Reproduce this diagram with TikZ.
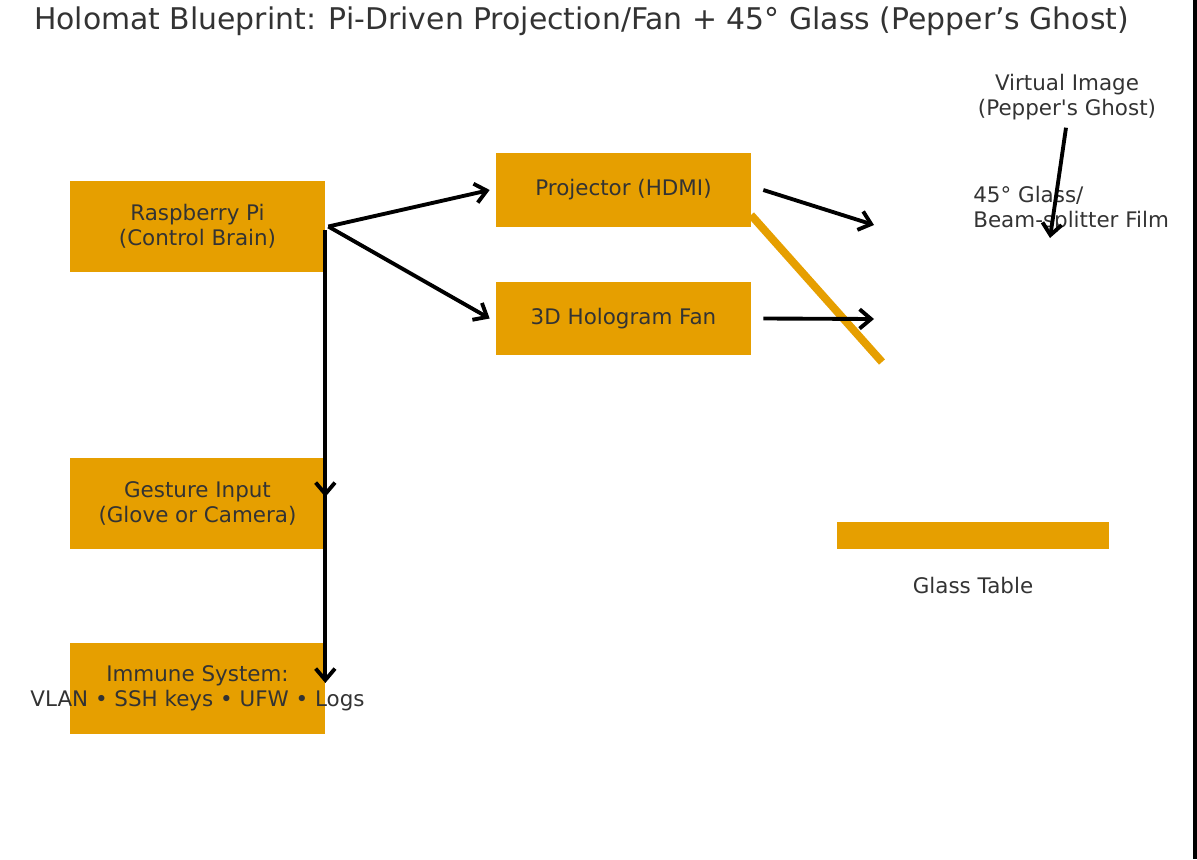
\documentclass[tikz,border=0pt]{standalone}
\usepackage{fontspec}
\setmainfont{DejaVu Sans}[Ligatures=TeXOff]
\usetikzlibrary{arrows.meta}

\definecolor{holoorange}{HTML}{E69F00}
\definecolor{inkgray}{HTML}{333333}

\begin{document}
\begin{tikzpicture}[x=0.02cm, y=-0.02cm, every node/.style={text=inkgray, font=\fontsize{12.2}{14.3}\selectfont}]
% Styles
\tikzstyle{block} = [rectangle, fill=holoorange, minimum width=5.1cm, minimum height=1.82cm, text centered, align=center, inner sep=0pt]
\tikzstyle{slim} = [block, minimum height=1.48cm]
\tikzstyle{note} = [align=center, inner sep=0pt]
\tikzstyle{arrow} = [line width=2.2pt, -{Straight Barb[length=6.5pt, width=11pt]}]
\tikzstyle{glass} = [line width=4.5pt, holoorange]

% Canvas
\useasboundingbox (0,0) rectangle (1197,859);
\fill (1193,0) rectangle (1197,859);

% Title
\node (title) [note, font=\fontsize{17}{20}\selectfont] at (581.5,21) {Holomat Blueprint: Pi-Driven Projection/Fan + 45° Glass (Pepper’s Ghost)};

% Nodes
\node (pi) [block] at (197.5,226.5) {Raspberry Pi\\(Control Brain)};
\node (gesture) [block] at (197.5,503.5) {Gesture Input\\(Glove or Camera)};
\node (immune) [block] at (197.5,688) {Immune System:\\\makebox[0pt]{VLAN • SSH keys • UFW • Logs}};
\node (projector) [slim] at (623.5,190) {Projector (HDMI)};
\node (fan) [slim] at (623.5,318.5) {3D Hologram Fan};
\node (table) [block, minimum width=5.44cm, minimum height=0.54cm] at (973,535.5) {};
\node (table_label) [note] at (973,586) {Glass Table};
\node (virtual) [note] at (1067,97.5) {Virtual Image\\(Pepper's Ghost)};
\node (glass_label) [note, align=left, anchor=west] at (973,209) {45° Glass/\\Beam-splitter Film};

% Glass sheet
\draw [glass] (751,215) -- (882,362);

% Arrows
\coordinate (beam1) at (874,225);
\coordinate (beam2) at (874,319);
\coordinate (ghost) at (1050,238);
\draw [arrow] ([xshift=0.06cm]pi.east) -- ([xshift=-0.12cm]projector.west);
\draw [arrow] ([xshift=0.06cm]pi.east) -- ([xshift=-0.12cm]fan.west);
\draw [arrow] ([yshift=-0.07cm]pi.east) -- ([yshift=0.13cm]gesture.east);
\draw [arrow] ([yshift=-0.07cm]pi.east) -- ([yshift=0.1cm]immune.east);
\draw [arrow] ([xshift=0.24cm]projector.east) -- (beam1);
\draw [arrow] ([xshift=0.24cm]fan.east) -- (beam2);
\draw [arrow, shorten <=0.14cm] (virtual.south) -- (ghost);
\end{tikzpicture}
\end{document}
